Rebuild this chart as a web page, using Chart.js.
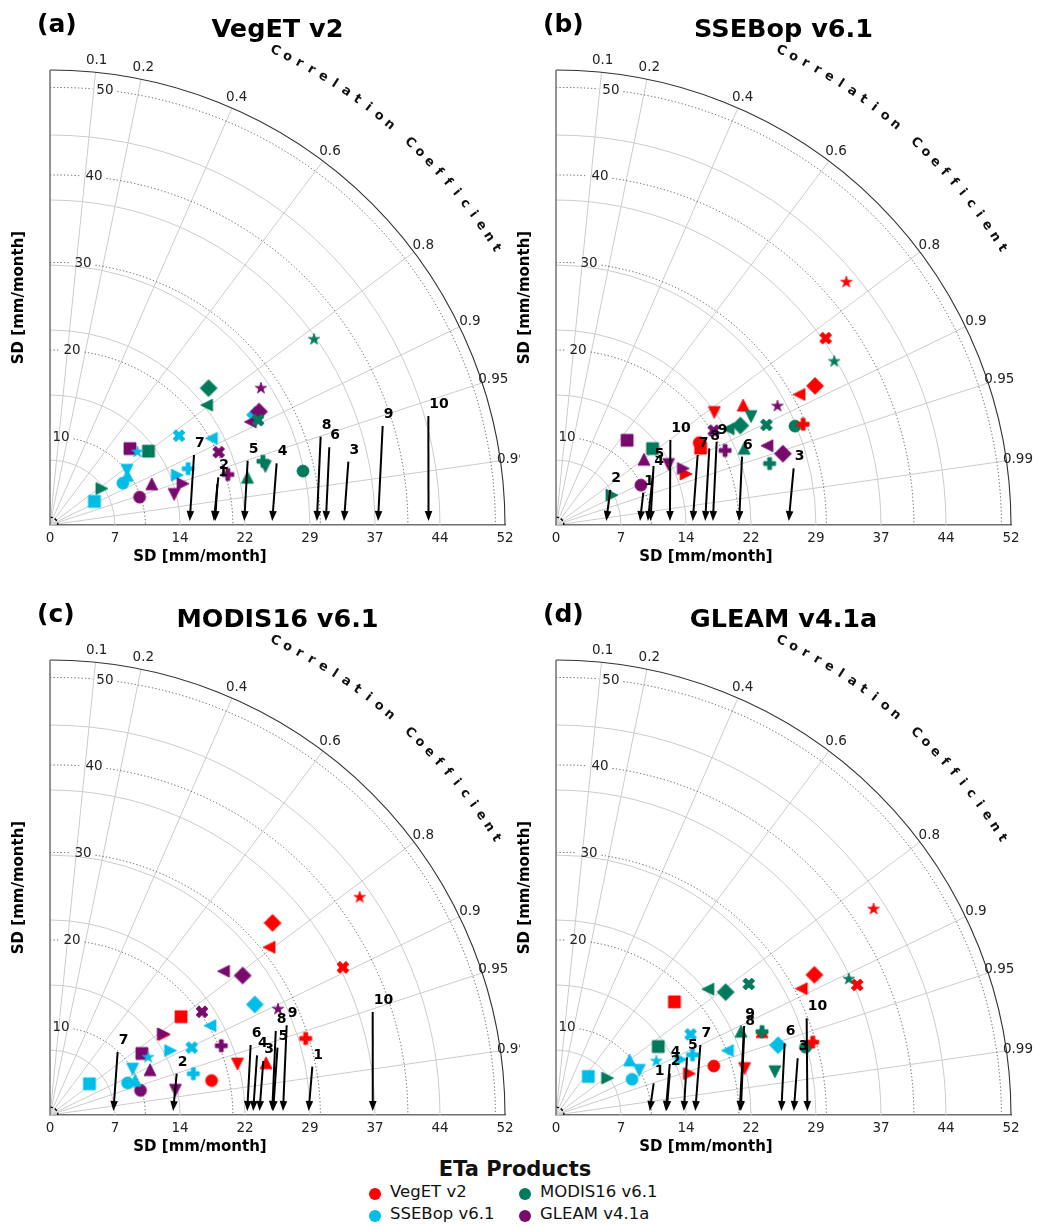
<!DOCTYPE html>
<html><head><meta charset="utf-8">
<script src="https://cdn.jsdelivr.net/npm/chart.js@4.4.1/dist/chart.umd.min.js"></script>
<style>
html,body{margin:0;padding:0;background:#fff;}
body{width:1040px;height:1227px;position:relative;overflow:hidden;font-family:'DejaVu Sans',sans-serif;color:#111;}
canvas.panel{position:absolute;}
.leg{position:absolute;font-size:16.5px;line-height:20px;white-space:nowrap;color:#111;}
.dot{position:absolute;width:12px;height:12px;border-radius:50%;}
</style></head><body>
<div style="position:absolute;left:0;top:1157px;width:1030px;text-align:center;font:bold 21px 'DejaVu Sans';line-height:24px;color:#111">ETa Products</div>
<div id="legendItems"></div>
<script>
// ---------------- DATA ----------------
const sites = ['1','2','3','4','5','6','7','8','9','10'];
const products = ['VegET v2','SSEBop v6.1','MODIS16 v6.1','GLEAM v4.1a'];
const productColors = ['#ff0000','#00bde8','#007a5c','#780a6e'];
const siteMarkers = ['o','s','D','^','v','<','>','P','X','*'];

// standard deviation of monthly ETa per site [mm/month]
const sdVegET  = [18.88, 18.72, 33.60, 25.40, 22.20, 31.53, 15.97, 30.50, 37.49, 43.26];
const sdSSEBop = [9.60, 5.75, 26.60, 10.50, 10.80, 20.93, 15.63, 17.05, 17.93, 13.02];
const sdMODIS  = [29.56, 14.07, 23.94, 23.22, 25.50, 22.54, 7.25, 25.40, 26.63, 36.89];
const sdGLEAM  = [10.72, 12.64, 27.18, 12.55, 14.61, 25.75, 15.92, 21.12, 21.00, 28.73];

// correlation coefficient between product pairs per site
const rVegET_SSEBop = [0.867, 0.883, 0.881, 0.842, 0.815, 0.881, 0.931, 0.926, 0.822, 0.767];
const rVegET_MODIS  = [0.978, 0.800, 0.757, 0.972, 0.965, 0.794, 0.818, 0.958, 0.893, 0.818];
const rVegET_GLEAM  = [0.955, 0.723, 0.879, 0.927, 0.971, 0.889, 0.955, 0.962, 0.918, 0.839];
const rSSEBop_MODIS = [0.924, 0.784, 0.880, 0.926, 0.874, 0.873, 0.882, 0.961, 0.903, 0.862];
const rSSEBop_GLEAM = [0.905, 0.643, 0.954, 0.801, 0.881, 0.936, 0.914, 0.915, 0.858, 0.881];
const rMODIS_GLEAM  = [0.965, 0.831, 0.810, 0.911, 0.981, 0.770, 0.813, 0.927, 0.827, 0.907];

// site-number annotation anchors (x = SD, y = height) per panel
const labelSD_a = [19.12, 19.24, 34.10, 25.90, 22.59, 31.92, 16.46, 30.93, 38.02, 43.24];
const labelH_a  = [4.69, 5.45, 7.24, 7.05, 7.35, 8.88, 8.00, 10.10, 11.31, 12.46];
const labelSD_b = [9.98, 6.20, 27.16, 11.10, 11.15, 21.26, 16.19, 17.52, 18.36, 13.07];
const labelH_b  = [3.70, 4.00, 6.48, 6.00, 6.75, 7.81, 8.00, 8.76, 9.52, 9.71];
const labelSD_c = [29.98, 14.48, 24.38, 23.66, 26.00, 22.93, 7.73, 25.80, 27.05, 36.88];
const labelH_c  = [5.52, 4.72, 6.17, 6.82, 7.70, 8.00, 7.20, 9.60, 10.25, 11.77];
const labelSD_d = [11.16, 13.00, 27.62, 13.00, 14.97, 26.13, 16.50, 21.50, 21.50, 28.65];
const labelH_d  = [3.62, 4.76, 6.48, 5.83, 6.59, 8.19, 8.00, 9.33, 10.17, 11.05];

// axes
const sdMax = 52;
const sdTicks = [0, 7.43, 14.86, 22.29, 29.71, 37.14, 44.57, 52];
const sdTickLabels = ['0','7','14','22','29','37','44','52'];
const corrTicks = [0.1, 0.2, 0.4, 0.6, 0.8, 0.9, 0.95, 0.99];
const corrTickLabels = ['0.1','0.2','0.4','0.6','0.8','0.9','0.95','0.99'];
const rmsLevels = [10, 20, 30, 40, 50];
const refStd = 0.9;

// ---------------- HELPERS ----------------
const SDS = [sdVegET, sdSSEBop, sdMODIS, sdGLEAM];
function corrOf(i, j) {
  const k = Math.min(i, j) + '-' + Math.max(i, j);
  return {'0-1': rVegET_SSEBop, '0-2': rVegET_MODIS, '0-3': rVegET_GLEAM,
          '1-2': rSSEBop_MODIS, '1-3': rSSEBop_GLEAM, '2-3': rMODIS_GLEAM}[k];
}
const FONT = "'DejaVu Sans', sans-serif";

function markerCanvas(shape, color) {
  const S = 22, c = document.createElement('canvas');
  c.width = S; c.height = S;
  const g = c.getContext('2d');
  g.translate(S / 2, S / 2);
  g.fillStyle = color; g.strokeStyle = color; g.lineWidth = 0.8; g.lineJoin = 'miter';
  const h = 6;
  const poly = pts => { g.moveTo(pts[0][0] * h, pts[0][1] * h); for (let i = 1; i < pts.length; i++) g.lineTo(pts[i][0] * h, pts[i][1] * h); g.closePath(); };
  g.beginPath();
  switch (shape) {
    case 'o': g.arc(0, 0, h, 0, Math.PI * 2); break;
    case 's': g.rect(-h, -h, 2 * h, 2 * h); break;
    case 'D': poly([[0, -1.414], [1.414, 0], [0, 1.414], [-1.414, 0]]); break;
    case '^': poly([[0, -1], [1, 1], [-1, 1]]); break;
    case 'v': poly([[0, 1], [1, -1], [-1, -1]]); break;
    case '<': poly([[-1, 0], [1, -1], [1, 1]]); break;
    case '>': poly([[1, 0], [-1, -1], [-1, 1]]); break;
    case 'P': poly([[-1,-3],[1,-3],[1,-1],[3,-1],[3,1],[1,1],[1,3],[-1,3],[-1,1],[-3,1],[-3,-1],[-1,-1]].map(p => [p[0] / 3, p[1] / 3])); break;
    case 'X': poly([[-1,-2],[0,-1],[1,-2],[2,-1],[1,0],[2,1],[1,2],[0,1],[-1,2],[-2,1],[-1,0],[-2,-1]].map(p => [p[0] / 2, p[1] / 2])); break;
    case '*': {
      const pts = [];
      for (let i = 0; i < 10; i++) {
        const r = i % 2 === 0 ? 1 : 0.381966;
        const a = -Math.PI / 2 + i * Math.PI / 5;
        pts.push([r * Math.cos(a), r * Math.sin(a)]);
      }
      poly(pts); break;
    }
  }
  g.fill(); g.stroke();
  return c;
}
const markerImgs = productColors.map(col => siteMarkers.map(m => markerCanvas(m, col)));

const panelDefs = [
  {id: 'pa', letter: '(a)', ref: 0, labelSD: labelSD_a, labelH: labelH_a, left: 0,   top: 0,   width: 520, padLeft: 50},
  {id: 'pb', letter: '(b)', ref: 1, labelSD: labelSD_b, labelH: labelH_b, left: 506, top: 0,   width: 534, padLeft: 50},
  {id: 'pc', letter: '(c)', ref: 2, labelSD: labelSD_c, labelH: labelH_c, left: 0,   top: 590, width: 520, padLeft: 50},
  {id: 'pd', letter: '(d)', ref: 3, labelSD: labelSD_d, labelH: labelH_d, left: 506, top: 590, width: 534, padLeft: 50}
];
const panelById = {};

function geom(chart) {
  const xs = chart.scales.x, ys = chart.scales.y;
  const ox = xs.getPixelForValue(0), oy = ys.getPixelForValue(0);
  const u = (xs.getPixelForValue(sdMax) - ox) / sdMax;
  return {xs, ys, ox, oy, u};
}

function drawGrid(chart) {
  const {xs, ys, ox, oy, u} = geom(chart);
  const ctx = chart.ctx;
  ctx.save();
  // SD arcs
  ctx.strokeStyle = '#cccccc'; ctx.lineWidth = 1;
  sdTicks.forEach(v => {
    if (v <= 0 || v >= sdMax) return;
    ctx.beginPath(); ctx.arc(ox, oy, v * u, -Math.PI / 2, 0); ctx.stroke();
  });
  // correlation rays
  corrTicks.forEach(c => {
    const s = Math.sqrt(1 - c * c);
    ctx.beginPath(); ctx.moveTo(ox, oy);
    ctx.lineTo(xs.getPixelForValue(sdMax * c), ys.getPixelForValue(sdMax * s)); ctx.stroke();
  });
  // RMS contours (dotted) with inline labels
  ctx.font = '13.5px ' + FONT; ctx.textAlign = 'center'; ctx.textBaseline = 'middle';
  const thL = 82.8 * Math.PI / 180;
  const cx = xs.getPixelForValue(refStd);
  rmsLevels.forEach(L => {
    const t = refStd * Math.cos(thL) + Math.sqrt(L * L - Math.pow(refStd * Math.sin(thL), 2));
    const pxL = xs.getPixelForValue(t * Math.cos(thL)), pyL = ys.getPixelForValue(t * Math.sin(thL));
    const Rp = L * u;
    const aL = Math.atan2(pyL - oy, pxL - cx);
    const a0 = -Math.acos(-refStd / L);
    const w = ctx.measureText(String(L)).width;
    const gap = (w / 2 + 4) / Rp;
    ctx.strokeStyle = '#555'; ctx.lineWidth = 1; ctx.setLineDash([1.2, 2.3]);
    if (aL - gap > a0) { ctx.beginPath(); ctx.arc(cx, oy, Rp, a0, aL - gap); ctx.stroke(); }
    ctx.beginPath(); ctx.arc(cx, oy, Rp, aL + gap, 0); ctx.stroke();
    ctx.setLineDash([]);
    ctx.fillStyle = '#222';
    ctx.fillText(String(L), pxL, pyL);
  });
  // reference std arc
  ctx.strokeStyle = '#000'; ctx.lineWidth = 1.4; ctx.setLineDash([3, 2]);
  ctx.beginPath(); ctx.arc(ox, oy, refStd * u, -Math.PI / 2, 0); ctx.stroke();
  ctx.setLineDash([]);
  // outer arc
  ctx.strokeStyle = '#333'; ctx.lineWidth = 1.1;
  ctx.beginPath(); ctx.arc(ox, oy, sdMax * u, -Math.PI / 2, 0); ctx.stroke();
  // left axis
  ctx.strokeStyle = '#707070'; ctx.lineWidth = 1.5;
  ctx.beginPath(); ctx.moveTo(ox, oy); ctx.lineTo(ox, ys.getPixelForValue(sdMax)); ctx.stroke();
  // correlation tick labels
  ctx.fillStyle = '#222'; ctx.font = '13.5px ' + FONT;
  corrTicks.forEach((c, i) => {
    const r = 53.33, s = Math.sqrt(1 - c * c);
    ctx.fillText(corrTickLabels[i], xs.getPixelForValue(r * c), ys.getPixelForValue(r * s));
  });
  // curved axis label
  const txt = 'Correlation Coefficient';
  ctx.font = 'bold 13px ' + FONT; ctx.fillStyle = '#111';
  for (let i = 0; i < txt.length; i++) {
    const ang = (64.6 - 1.49 * i) * Math.PI / 180;
    const r = 60 * u;
    ctx.save();
    ctx.translate(ox + r * Math.cos(ang), oy - r * Math.sin(ang));
    ctx.rotate(Math.PI / 2 - ang);
    ctx.fillText(txt[i], 0, 0);
    ctx.restore();
  }
  ctx.restore();
}

function drawArrows(chart) {
  const P = panelById[chart.canvas.id];
  const {xs, ys} = geom(chart);
  const ctx = chart.ctx;
  const refSD = SDS[P.ref];
  ctx.save();
  ctx.strokeStyle = '#000'; ctx.fillStyle = '#000';
  sites.forEach((s, k) => {
    const tx = xs.getPixelForValue(P.labelSD[k]), ty = ys.getPixelForValue(P.labelH[k]);
    const hx = xs.getPixelForValue(refSD[k]), hy = ys.getPixelForValue(0) - 4;
    const dx = hx - tx, dy = hy - ty, len = Math.hypot(dx, dy), ux = dx / len, uy = dy / len;
    const HL = 10, HW = 3.8;
    const bx = hx - ux * HL, by = hy - uy * HL;
    ctx.lineWidth = 2;
    ctx.beginPath(); ctx.moveTo(tx, ty); ctx.lineTo(bx + ux, by + uy); ctx.stroke();
    ctx.beginPath(); ctx.moveTo(hx, hy);
    ctx.lineTo(bx - uy * HW, by + ux * HW); ctx.lineTo(bx + uy * HW, by - ux * HW);
    ctx.closePath(); ctx.fill();
  });
  ctx.font = 'bold 14px ' + FONT; ctx.textAlign = 'left'; ctx.textBaseline = 'alphabetic';
  sites.forEach((s, k) => {
    const tx = xs.getPixelForValue(P.labelSD[k]), ty = ys.getPixelForValue(P.labelH[k]);
    ctx.fillText(s, tx + 1, ty - 8);
  });
  ctx.restore();
}

function drawTexts(chart) {
  const P = panelById[chart.canvas.id];
  const {ox, oy, u} = geom(chart);
  const ctx = chart.ctx;
  const half = sdMax * u / 2;
  ctx.save();
  ctx.fillStyle = '#000'; ctx.textBaseline = 'middle';
  ctx.font = 'bold 25.5px ' + FONT; ctx.textAlign = 'center';
  ctx.fillText(products[P.ref], ox + half, oy - 495);
  ctx.font = 'bold 25px ' + FONT; ctx.textAlign = 'left';
  ctx.fillText(P.letter, ox - 13, oy - 500);
  ctx.font = 'bold 15px ' + FONT; ctx.textAlign = 'center';
  ctx.fillText('SD [mm/month]', ox + 150, oy + 32);
  ctx.save();
  ctx.translate(ox - 31, oy - half); ctx.rotate(-Math.PI / 2);
  ctx.fillText('SD [mm/month]', 0, 0);
  ctx.restore();
  ctx.restore();
}

const taylorPlugin = {
  id: 'taylor',
  beforeDatasetsDraw: chart => drawGrid(chart),
  afterDatasetsDraw: chart => drawArrows(chart),
  afterDraw: chart => drawTexts(chart)
};

panelDefs.forEach(P => {
  const cv = document.createElement('canvas');
  cv.id = P.id; cv.className = 'panel'; cv.width = P.width; cv.height = 590;
  cv.style.left = P.left + 'px'; cv.style.top = P.top + 'px';
  document.body.appendChild(cv);
  panelById[P.id] = P;
  const others = [0, 1, 2, 3].filter(i => i !== P.ref);
  const datasets = sites.map((s, k) => ({
    label: 'Site ' + s,
    data: others.map(p => {
      const sd = SDS[p][k], r = corrOf(P.ref, p)[k];
      return {x: sd * r, y: sd * Math.sqrt(1 - r * r)};
    }),
    pointStyle: others.map(p => markerImgs[p][k]),
    pointRadius: 6,
    showLine: false,
    order: 10 - k,
    clip: false
  }));
  new Chart(cv, {
    type: 'scatter',
    data: {datasets},
    plugins: [taylorPlugin],
    options: {
      responsive: false, maintainAspectRatio: false, animation: false, events: [],
      layout: {padding: {left: P.padLeft, right: P.width - P.padLeft - 455, top: 70, bottom: 35}},
      plugins: {legend: {display: false}, tooltip: {enabled: false}, title: {display: false}},
      scales: {
        x: {
          type: 'linear', min: 0, max: sdMax, position: 'bottom',
          afterBuildTicks: axis => { axis.ticks = sdTicks.map(v => ({value: v})); },
          afterFit: axis => { axis.height = 30; },
          ticks: {callback: (v, i) => sdTickLabels[i], autoSkip: false, maxRotation: 0, padding: 5,
                  color: '#222', font: {family: FONT, size: 13.5}},
          grid: {display: false, drawTicks: false},
          border: {display: true, color: '#707070', width: 1.5}
        },
        y: {type: 'linear', min: 0, max: sdMax, display: false}
      }
    }
  });
});

// legend (HTML)
const legPos = [[375, 1194], [375, 1216], [525, 1194], [525, 1216]];
const li = document.getElementById('legendItems');
products.forEach((name, p) => {
  const [x, y] = legPos[p];
  const d = document.createElement('div'); d.className = 'dot';
  d.style.left = (x - 6) + 'px'; d.style.top = (y - 6) + 'px'; d.style.background = productColors[p];
  li.appendChild(d);
  const t = document.createElement('div'); t.className = 'leg';
  t.style.left = (x + 15) + 'px'; t.style.top = (y - 12) + 'px'; t.textContent = name;
  li.appendChild(t);
});
</script>
</body></html>
